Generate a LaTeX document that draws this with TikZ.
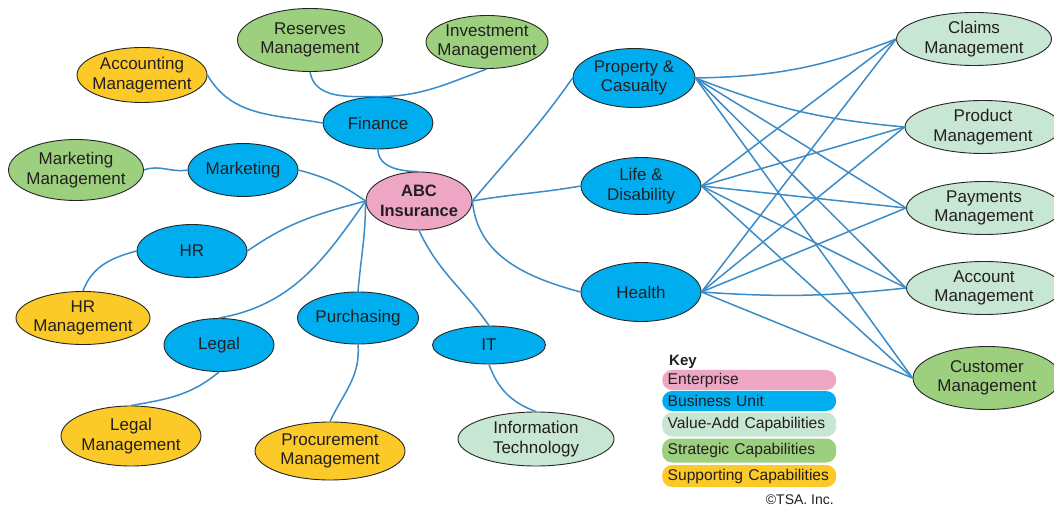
\documentclass[tikz,border=0pt]{standalone}
\usepackage{fontspec}
\setmainfont{Liberation Sans}
\usetikzlibrary{shapes.geometric}

\definecolor{entpink}{RGB}{237,167,196}
\definecolor{unitblue}{RGB}{0,174,239}
\definecolor{valuemint}{RGB}{200,230,212}
\definecolor{stratgreen}{RGB}{157,208,126}
\definecolor{suppyellow}{RGB}{251,201,40}
\definecolor{linkblue}{RGB}{58,140,200}
\definecolor{txtgray}{RGB}{35,31,32}

\begin{document}
\begin{tikzpicture}[x=1pt, y=1pt,
    bubble/.style={ellipse, draw=black!85, line width=0.9pt, inner xsep=-8pt, inner ysep=-4pt,
        align=center, text=txtgray, font=\fontsize{17}{19.5}\selectfont},
    enterprise/.style={bubble, fill=entpink, font=\fontsize{16.5}{19.5}\selectfont\bfseries},
    unit/.style={bubble, fill=unitblue},
    valueadd/.style={bubble, fill=valuemint},
    strategic/.style={bubble, fill=stratgreen},
    supporting/.style={bubble, fill=suppyellow},
    link/.style={linkblue, line width=1.5pt},
    keybar/.style={rectangle, rounded corners=10pt, anchor=west, minimum width=174pt, text width=163pt,
        inner xsep=5.5pt, inner ysep=0pt, align=left, text=txtgray, font=\fontsize{15.6}{17}\selectfont}
]

\fill[white] (0,0) rectangle (1054,506);
\useasboundingbox (0,0) rectangle (1054,506);

% Enterprise
\node[enterprise, minimum width=106pt, minimum height=58pt] (abc) at (419,305) {ABC\\Insurance};

% Business units
\node[unit, minimum width=110pt, minimum height=52pt] (finance) at (378,383) {Finance};
\node[unit, minimum width=110pt, minimum height=53pt] (marketing) at (243,336) {Marketing};
\node[unit, minimum width=110pt, minimum height=53pt] (hr) at (192,255) {HR};
\node[unit, minimum width=110pt, minimum height=53pt] (legal) at (219,161) {Legal};
\node[unit, minimum width=121pt, minimum height=52pt] (purchasing) at (358,188) {Purchasing};
\node[unit, minimum width=113pt, minimum height=38pt] (it) at (489,161) {IT};
\node[unit, minimum width=122pt, minimum height=59pt] (property) at (634,428) {Property \&\\Casualty};
\node[unit, minimum width=120pt, minimum height=57pt] (life) at (641,320) {Life \&\\Disability};
\node[unit, minimum width=120pt, minimum height=59pt] (health) at (641,214) {Health};

% Capabilities (left)
\node[supporting, minimum width=130pt, minimum height=55pt] (accounting) at (142,431) {Accounting\\Management};
\node[strategic, minimum width=145pt, minimum height=63pt] (reserves) at (310,466) {Reserves\\Management};
\node[strategic, minimum width=122pt, minimum height=53pt] (investment) at (487,464) {Investment\\Management};
\node[strategic, minimum width=135pt, minimum height=61pt] (mktmgmt) at (76,336) {Marketing\\Management};
\node[supporting, minimum width=134pt, minimum height=53pt] (hrmgmt) at (83,188) {HR\\Management};
\node[supporting, minimum width=140pt, minimum height=60pt] (legalmgmt) at (131,70) {Legal\\Management};
\node[supporting, minimum width=150pt, minimum height=58pt] (procurement) at (330,55) {Procurement\\Management};
\node[valueadd, minimum width=156pt, minimum height=54pt] (infotech) at (536,67) {Information\\Technology};

% Capabilities (right)
\node[valueadd, minimum width=155pt, minimum height=53pt] (claims) at (974,467) {Claims\\Management};
\node[valueadd, minimum width=156pt, minimum height=53pt] (product) at (983,379) {Product\\Management};
\node[valueadd, minimum width=155pt, minimum height=53pt] (payments) at (984,298) {Payments\\Management};
\node[valueadd, minimum width=155pt, minimum height=53pt] (account) at (984,218) {Account\\Management};
\node[strategic, minimum width=148pt, minimum height=63pt] (customer) at (987,128) {Customer\\Management};

% Enterprise to business units
\draw[link] (finance.south) to[out=-90, in=180] (abc.north);
\draw[link] (marketing.east) to[out=-15, in=145] (abc.west);
\draw[link] (hr.east) to[out=35, in=195] (abc.west);
\draw[link] (legal.north) to[out=10, in=235] (abc.west);
\draw[link] (purchasing.north) to[out=85, in=270] (abc.west);
\draw[link] (abc.south) to[out=-65, in=125] (it.north);
\draw[link] (abc.east) to[out=50, in=235] (property.west);
\draw[link] (abc.east) to[out=10, in=190] (life.west);
\draw[link] (abc.east) to[out=-85, in=165] (health.west);

% Business units to capabilities
\draw[link] (finance.west) to[out=170, in=-60] (accounting.east);
\draw[link] (reserves.south) to[out=-80, in=180] (finance.north) to[out=0, in=-160] (investment.south);
\draw[link] (marketing.west) to[out=190, in=20] (mktmgmt.east);
\draw[link] (hr.west) to[out=195, in=70] (hrmgmt.north);
\draw[link] (legal.south) to[out=220, in=10] (legalmgmt.north);
\draw[link] (purchasing.south) to[out=-85, in=65] (procurement.north);
\draw[link] (it.south) to[out=-70, in=160] (infotech.north);

\foreach \u/\c/\b in {property/claims/10, property/product/8, property/payments/0,
    property/account/0, property/customer/0, life/claims/0, life/product/0, life/payments/0,
    life/account/0, life/customer/0, health/claims/0, health/product/0, health/payments/0,
    health/account/5, health/customer/0} {
    \draw[link] (\u.east) to[bend right=\b] (\c.west);
}

% Key
\node[anchor=west, text=txtgray, font=\fontsize{15}{17}\selectfont\bfseries, inner sep=0pt] (key) at (669,144) {Key};
\node[keybar, fill=entpink, minimum height=20pt] (kent) at (662,126) {Enterprise};
\node[keybar, fill=unitblue, minimum height=20pt] (kunit) at (662,105) {Business Unit};
\node[keybar, fill=valuemint, minimum height=24pt] (kvalue) at (662,81.5) {Value-Add Capabilities};
\node[keybar, fill=stratgreen, minimum height=24pt] (kstrat) at (662,55.5) {Strategic Capabilities};
\node[keybar, fill=suppyellow, minimum height=22pt] (ksupp) at (662,30) {Supporting Capabilities};
\node[anchor=east, text=txtgray, font=\fontsize{14}{16}\selectfont, inner sep=0pt] (tsa) at (834,6) {©TSA. Inc.};

\end{tikzpicture}
\end{document}
